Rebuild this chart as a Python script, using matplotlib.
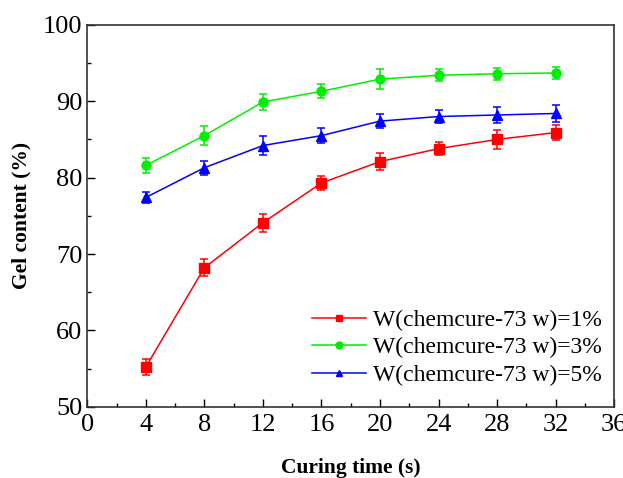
import numpy as np
import matplotlib
matplotlib.use("Agg")
import matplotlib.pyplot as plt
from matplotlib.ticker import MultipleLocator
from matplotlib.lines import Line2D

# data
time_s = [4, 8, 12, 16, 20, 24, 28, 32]
gel_1 = [55.2, 68.2, 74.1, 79.3, 82.1, 83.8, 85.0, 85.9]
gel_3 = [81.6, 85.5, 89.9, 91.3, 92.9, 93.4, 93.6, 93.7]
gel_5 = [77.4, 81.3, 84.2, 85.5, 87.4, 88.0, 88.2, 88.4]
err_1 = [1.1, 1.1, 1.2, 0.9, 1.1, 0.8, 1.2, 1.0]
err_3 = [1.0, 1.2, 1.0, 0.9, 1.3, 0.8, 0.8, 0.8]
err_5 = [0.7, 0.9, 1.2, 1.0, 0.9, 0.8, 1.1, 1.1]
labels = ['W(chemcure-73 w)=1%', 'W(chemcure-73 w)=3%', 'W(chemcure-73 w)=5%']

plt.rcParams['font.family'] = 'Liberation Serif'

fig = plt.figure(figsize=(6.23, 4.78), dpi=100)
ax = fig.add_axes([0.14, 0.149, 0.846, 0.799])

series = [(gel_1, err_1, '#ff0000', 's'),
          (gel_3, err_3, '#00ee00', 'o'),
          (gel_5, err_5, '#0000ff', '^')]
handles = []
for (y, e, c, m), lab in zip(series, labels):
    ax.errorbar(time_s, y, yerr=e, color=c, marker=m, markersize=6.5,
                linewidth=1.1, elinewidth=1.1, capsize=3, capthick=1.1)
    handles.append(Line2D([], [], color=c, marker=m, markersize=5, linewidth=1.1, label=lab))

ax.set_xlim(0, 36)
ax.set_ylim(50, 100)
ax.xaxis.set_major_locator(MultipleLocator(4))
ax.xaxis.set_minor_locator(MultipleLocator(2))
ax.yaxis.set_major_locator(MultipleLocator(10))
ax.yaxis.set_minor_locator(MultipleLocator(5))
ax.tick_params(which='both', direction='in', top=False, right=False, labelsize=19)
ax.tick_params(axis='x', pad=5)
ax.tick_params(which='major', length=6, width=1)
ax.tick_params(which='minor', length=3, width=1)
for s in ax.spines.values():
    s.set_linewidth(1.2)
    s.set_color('#333333')

ax.set_xlabel('Curing time (s)', fontsize=15.5, fontweight='bold', labelpad=16)
ax.set_ylabel('Gel content (%)', fontsize=15.5, fontweight='bold', labelpad=8)

leg = ax.legend(handles=handles, loc='lower right', frameon=False, fontsize=17,
                handlelength=2.3, handletextpad=0.3, borderaxespad=0.0,
                labelspacing=0.25, bbox_to_anchor=(0.995, 0.03))

fig.savefig('out.png', dpi=100)
